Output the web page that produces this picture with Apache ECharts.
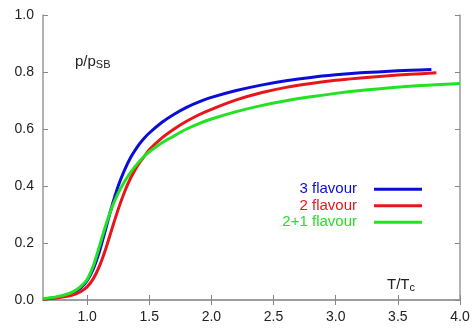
<!DOCTYPE html>
<html>
<head>
<meta charset="utf-8">
<script src="https://cdn.jsdelivr.net/npm/echarts@6/dist/echarts.min.js"></script>
<style>
  html, body {margin: 0; padding: 0; background: #fff;}
  #chart {width: 475px; height: 328px;}
</style>
</head>
<body>
<div id="chart"></div>
<script>
// T/Tc sample points and p/pSB values
const t3 = [0.645, 0.75, 0.85, 0.9, 0.95, 1.0, 1.05, 1.1, 1.15, 1.2, 1.25, 1.3, 1.35, 1.4, 1.45, 1.5, 1.6, 1.7, 1.8, 1.9, 2.0, 2.2, 2.4, 2.6, 2.8, 3.0, 3.2, 3.4, 3.6, 3.77];
const p3 = [0.004, 0.009, 0.019, 0.028, 0.043, 0.068, 0.11, 0.172, 0.25, 0.33, 0.40, 0.455, 0.50, 0.535, 0.563, 0.586, 0.623, 0.652, 0.676, 0.695, 0.711, 0.735, 0.754, 0.769, 0.781, 0.790, 0.797, 0.802, 0.806, 0.809];

const t2 = [0.645, 0.75, 0.85, 0.9, 0.95, 1.0, 1.05, 1.1, 1.15, 1.2, 1.25, 1.3, 1.35, 1.4, 1.45, 1.5, 1.6, 1.7, 1.8, 1.9, 2.0, 2.2, 2.4, 2.6, 2.8, 3.0, 3.2, 3.4, 3.6, 3.81];
const p2 = [0.003, 0.007, 0.014, 0.02, 0.03, 0.046, 0.075, 0.12, 0.18, 0.25, 0.318, 0.378, 0.428, 0.467, 0.498, 0.527, 0.568, 0.60, 0.627, 0.65, 0.669, 0.702, 0.727, 0.746, 0.76, 0.771, 0.779, 0.786, 0.792, 0.797];

const t21 = [0.645, 0.75, 0.85, 0.9, 0.95, 1.0, 1.05, 1.1, 1.15, 1.2, 1.25, 1.3, 1.35, 1.4, 1.45, 1.5, 1.6, 1.7, 1.8, 1.9, 2.0, 2.2, 2.4, 2.6, 2.8, 3.0, 3.2, 3.4, 3.6, 3.8, 4.0];
const p21 = [0.005, 0.011, 0.022, 0.032, 0.048, 0.072, 0.12, 0.19, 0.262, 0.325, 0.375, 0.415, 0.448, 0.476, 0.50, 0.52, 0.551, 0.576, 0.60, 0.619, 0.635, 0.661, 0.682, 0.699, 0.713, 0.725, 0.735, 0.743, 0.75, 0.755, 0.76];

const xTicks = [1.0, 1.5, 2.0, 2.5, 3.0, 3.5, 4.0];
const names = ['3 flavour', '2 flavour', '2+1 flavour'];
const colors = ['#0c0cd8', '#e8161a', '#22e222'];

const zip = (xs, ys) => xs.map((x, i) => [x, ys[i]]);

const frame = '#999';
const font = 'Liberation Sans, Arial, sans-serif';
const tick = {show: true, inside: true, length: 5, lineStyle: {color: '#888', width: 1}};

const myChart = echarts.init(document.getElementById('chart'));
myChart.setOption({
  animation: false,
  grid: {left: 43, right: 15, top: 15, bottom: 28},
  xAxis: [
    {
      type: 'value', min: 0.645, max: 4.0, position: 'bottom',
      splitLine: {show: false},
      axisLine: {lineStyle: {color: frame, width: 1.5}},
      axisTick: Object.assign({customValues: xTicks}, tick),
      axisLabel: {
        customValues: xTicks, color: '#222', fontSize: 14, margin: 10,
        fontFamily: font,
        formatter: v => v.toFixed(1)
      }
    },
    {
      type: 'value', min: 0.645, max: 4.0, position: 'top',
      splitLine: {show: false},
      axisLine: {show: true, lineStyle: {color: frame, width: 1.5}},
      axisTick: Object.assign({customValues: xTicks}, tick),
      axisLabel: {show: false}
    }
  ],
  yAxis: [
    {
      type: 'value', min: 0, max: 1, interval: 0.2, position: 'left',
      splitLine: {show: false},
      axisLine: {show: true, lineStyle: {color: frame, width: 1.5}},
      axisTick: tick,
      axisLabel: {
        color: '#222', fontSize: 14, margin: 9,
        fontFamily: font,
        formatter: v => v.toFixed(1)
      }
    },
    {
      type: 'value', min: 0, max: 1, interval: 0.2, position: 'right',
      splitLine: {show: false},
      axisLine: {show: true, lineStyle: {color: frame, width: 1.5}},
      axisTick: tick,
      axisLabel: {show: false}
    }
  ],
  legend: {
    orient: 'vertical', right: 48, top: 176,
    align: 'right', icon: 'rect',
    itemWidth: 48, itemHeight: 3, itemGap: 0,
    textStyle: {
      fontSize: 15, width: 98, align: 'right', lineHeight: 16.5,
      padding: [0, 12, 0, 0],
      fontFamily: font
    },
    data: names.map((n, i) => ({name: n, textStyle: {color: colors[i]}}))
  },
  graphic: [
    {
      type: 'text', left: 75, top: 54,
      style: {
        text: '{a|p/p}{s|SB}',
        rich: {
          a: {fontSize: 15, fill: '#222', fontFamily: font},
          s: {fontSize: 11, fill: '#222', fontFamily: font, verticalAlign: 'bottom', padding: [6, 0, 0, 0]}
        }
      }
    },
    {
      type: 'text', left: 387, top: 277,
      style: {
        text: '{a|T/T}{s|c}',
        rich: {
          a: {fontSize: 15, fill: '#222', fontFamily: font},
          s: {fontSize: 11, fill: '#222', fontFamily: font, verticalAlign: 'bottom', padding: [6, 0, 0, 0]}
        }
      }
    }
  ],
  series: [
    {name: names[0], type: 'line', data: zip(t3, p3)},
    {name: names[1], type: 'line', data: zip(t2, p2)},
    {name: names[2], type: 'line', data: zip(t21, p21)}
  ].map((s, i) => Object.assign(s, {
    showSymbol: false, smooth: 0.3,
    color: colors[i],
    lineStyle: {width: 3, color: colors[i]}
  }))
});
</script>
</body>
</html>
